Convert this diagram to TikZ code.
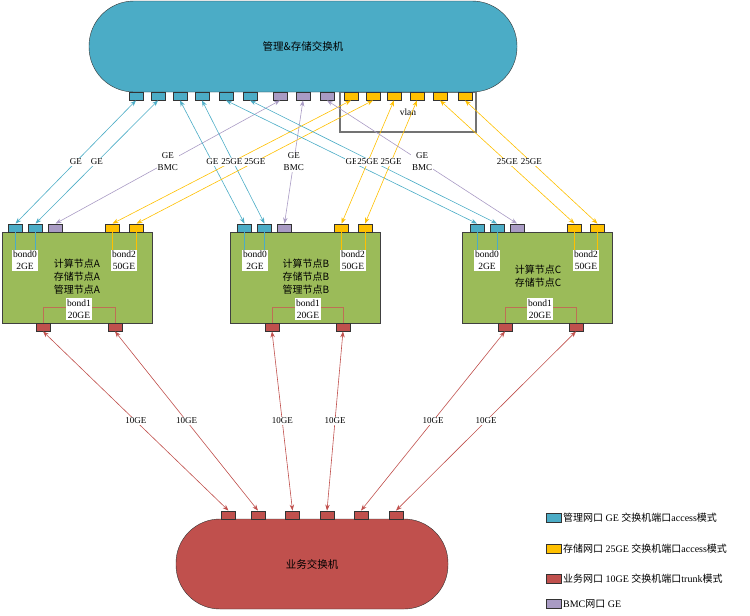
\documentclass[tikz,border=0pt]{standalone}
\usepackage{fontspec}
\setmainfont{Liberation Serif}
\newfontfamily\cjk{Noto Sans CJK SC}
\usetikzlibrary{arrows.meta}
\definecolor{mgmt}{HTML}{4BACC6}
\definecolor{stor}{HTML}{FFC000}
\definecolor{biz}{HTML}{C0504D}
\definecolor{bmc}{HTML}{A99BC4}
\definecolor{srv}{HTML}{9BBB59}
\definecolor{brk}{HTML}{BE6F55}
\begin{document}
\begin{tikzpicture}[x=1pt, y=-1pt, >={Stealth[length=6pt,width=4.5pt]},
  port/.style={draw=black!80, line width=0.8pt, minimum width=14pt, minimum height=8pt, inner sep=0pt},
  server/.style={draw=black!75, line width=1pt, fill=srv, minimum width=150pt, minimum height=91pt},
  bond/.style={fill=white, align=center, inner sep=1.2pt, font=\fontsize{9.5}{12}\selectfont},
  srvtext/.style={align=center, font=\cjk\fontsize{10}{13}\selectfont},
  lbl/.style={fill=white, inner sep=0.8pt, align=center, font=\fontsize{9}{12}\selectfont},
  link/.style={<->, line width=0.6pt},
  legtext/.style={anchor=west, inner sep=1.5pt, font=\fontsize{10}{12}\selectfont}]
\useasboundingbox (0,0) rectangle (750,616);

% management & storage switch
\node[draw=black!55, line width=1.3pt, minimum width=136pt, minimum height=40pt, font=\fontsize{9.5}{11}\selectfont] (vlan) at (408,112) {vlan};
\node[draw=black!80, fill=mgmt, rounded corners=45pt, minimum width=428pt, minimum height=91pt, font=\cjk\fontsize{10.5}{12}\selectfont] (top) at (303,46.5) {管理\&存储交换机};
\node[port, fill=mgmt] (m1) at (136,96) {};
\node[port, fill=mgmt] (m2) at (158,96) {};
\node[port, fill=mgmt] (m3) at (180,96) {};
\node[port, fill=mgmt] (m4) at (202,96) {};
\node[port, fill=mgmt] (m5) at (226,96) {};
\node[port, fill=mgmt] (m6) at (250,96) {};
\node[port, fill=bmc] (p1) at (280,96) {};
\node[port, fill=bmc] (p2) at (303,96) {};
\node[port, fill=bmc] (p3) at (327,96) {};
\node[port, fill=stor] (v1) at (351,96) {};
\node[port, fill=stor] (v2) at (373,96) {};
\node[port, fill=stor] (v3) at (394,96) {};
\node[port, fill=stor] (v4) at (417,96) {};
\node[port, fill=stor] (v5) at (440,96) {};
\node[port, fill=stor] (v6) at (465,96) {};

% server A
\node[server] (na) at (77,277.5) {};
\node[port, fill=mgmt] (am1) at (15.5,228) {};
\node[port, fill=mgmt] (am2) at (35.5,228) {};
\node[port, fill=bmc] (ap) at (55.5,228) {};
\node[port, fill=stor] (as1) at (112.5,228) {};
\node[port, fill=stor] (as2) at (136.5,228) {};
\node[port, fill=biz] (ar1) at (43,327) {};
\node[port, fill=biz] (ar2) at (115,327) {};
\node[bond] (a0) at (25,260.5) {bond0\\2GE};
\node[bond] (a2) at (124,260.5) {bond2\\50GE};
\draw[mgmt, line width=0.8pt] (am1.south) -- (am1 |- a0.north);
\draw[mgmt, line width=0.8pt] (am2.south) -- (am2 |- a0.north);
\draw[stor, line width=0.8pt] (as1.south) -- (as1 |- a2.north);
\draw[stor, line width=0.8pt] (as2.south) -- (as2 |- a2.north);
\draw[brk, line width=0.8pt] (ar1.north) -- ++(0,-15) -| (ar2.north);
\node[bond] (a1) at (79,309) {bond1\\20GE};
\node[srvtext] (ta) at (77,277) {计算节点A\\存储节点A\\管理节点A};

% server B
\node[server] (nb) at (305,277.5) {};
\node[port, fill=mgmt] (bm1) at (244.5,228) {};
\node[port, fill=mgmt] (bm2) at (264.5,228) {};
\node[port, fill=bmc] (bp) at (284.5,228) {};
\node[port, fill=stor] (bs1) at (341.5,228) {};
\node[port, fill=stor] (bs2) at (365,228) {};
\node[port, fill=biz] (br1) at (272,327) {};
\node[port, fill=biz] (br2) at (343,327) {};
\node[bond] (b0) at (255,260.5) {bond0\\2GE};
\node[bond] (b2) at (353,260.5) {bond2\\50GE};
\draw[mgmt, line width=0.8pt] (bm1.south) -- (bm1 |- b0.north);
\draw[mgmt, line width=0.8pt] (bm2.south) -- (bm2 |- b0.north);
\draw[stor, line width=0.8pt] (bs1.south) -- (bs1 |- b2.north);
\draw[stor, line width=0.8pt] (bs2.south) -- (bs2 |- b2.north);
\draw[brk, line width=0.8pt] (br1.north) -- ++(0,-15) -| (br2.north);
\node[bond] (b1) at (308,309) {bond1\\20GE};
\node[srvtext] (tb) at (306,277) {计算节点B\\存储节点B\\管理节点B};

% server C
\node[server] (nc) at (537.5,277.5) {};
\node[port, fill=mgmt] (cm1) at (477,228) {};
\node[port, fill=mgmt] (cm2) at (497,228) {};
\node[port, fill=bmc] (cp) at (517,228) {};
\node[port, fill=stor] (cs1) at (574.5,228) {};
\node[port, fill=stor] (cs2) at (597.5,228) {};
\node[port, fill=biz] (cr1) at (505,327) {};
\node[port, fill=biz] (cr2) at (576,327) {};
\node[bond] (c0) at (487,260.5) {bond0\\2GE};
\node[bond] (c2) at (586,260.5) {bond2\\50GE};
\draw[mgmt, line width=0.8pt] (cm1.south) -- (cm1 |- c0.north);
\draw[mgmt, line width=0.8pt] (cm2.south) -- (cm2 |- c0.north);
\draw[stor, line width=0.8pt] (cs1.south) -- (cs1 |- c2.north);
\draw[stor, line width=0.8pt] (cs2.south) -- (cs2 |- c2.north);
\draw[brk, line width=0.8pt] (cr1.north) -- ++(0,-15) -| (cr2.north);
\node[bond] (c1) at (540,309) {bond1\\20GE};
\node[srvtext] (tc) at (538,276) {计算节点C\\存储节点C};

% business switch
\node[draw=black!80, fill=biz, rounded corners=44pt, minimum width=272pt, minimum height=90pt, font=\cjk\fontsize{10.5}{12}\selectfont] (bot) at (312,564) {业务交换机};
\node[port, fill=biz] (z1) at (228.5,515) {};
\node[port, fill=biz] (z2) at (258,515) {};
\node[port, fill=biz] (z3) at (292.5,515) {};
\node[port, fill=biz] (z4) at (327,515) {};
\node[port, fill=biz] (z5) at (361,515) {};
\node[port, fill=biz] (z6) at (396,515) {};

% links
\draw[link, draw=mgmt] (m1.south) -- node[lbl] {GE} (am1.north);
\draw[link, draw=mgmt] (m2.south) -- node[lbl] {GE} (am2.north);
\draw[link, draw=bmc] (p1.south) -- node[lbl] {GE\\BMC} (ap.north);
\draw[link, draw=mgmt] (m3.south) -- node[lbl] {GE} (bm1.north);
\draw[link, draw=mgmt] (m4.south) -- node[lbl] {GE} (bm2.north);
\draw[link, draw=stor] (v1.south) -- node[lbl] {25GE} (as1.north);
\draw[link, draw=stor] (v2.south) -- node[lbl] {25GE} (as2.north);
\draw[link, draw=bmc] (p2.south) -- node[lbl] {GE\\BMC} (bp.north);
\draw[link, draw=mgmt] (m5.south) -- node[lbl] {GE} (cm1.north);
\draw[link, draw=mgmt] (m6.south) -- node[lbl] {GE} (cm2.north);
\draw[link, draw=stor] (v3.south) -- node[lbl] {25GE} (bs1.north);
\draw[link, draw=stor] (v4.south) -- node[lbl] {25GE} (bs2.north);
\draw[link, draw=bmc] (p3.south) -- node[lbl] {GE\\BMC} (cp.north);
\draw[link, draw=stor] (v5.south) -- node[lbl] {25GE} (cs1.north);
\draw[link, draw=stor] (v6.south) -- node[lbl] {25GE} (cs2.north);

\draw[link, draw=biz] (ar1.south) -- node[lbl] {10GE} (z1.north);
\draw[link, draw=biz] (ar2.south) -- node[lbl] {10GE} (z2.north);
\draw[link, draw=biz] (br1.south) -- node[lbl] {10GE} (z3.north);
\draw[link, draw=biz] (br2.south) -- node[lbl] {10GE} (z4.north);
\draw[link, draw=biz] (cr1.south) -- node[lbl] {10GE} (z5.north);
\draw[link, draw=biz] (cr2.south) -- node[lbl] {10GE} (z6.north);

% legend
\node[port, fill=mgmt, minimum width=15pt, minimum height=9pt] (l1) at (553.5,517.5) {};
\node[legtext] (l1t) at (l1.east) {{\cjk 管理网口} GE {\cjk 交换机端口}access{\cjk 模式}};
\node[port, fill=stor, minimum width=15pt, minimum height=9pt] (l2) at (553.5,549) {};
\node[legtext] (l2t) at (l2.east) {{\cjk 存储网口} 25GE {\cjk 交换机端口}access{\cjk 模式}};
\node[port, fill=biz, minimum width=15pt, minimum height=9pt] (l3) at (553.5,579) {};
\node[legtext] (l3t) at (l3.east) {{\cjk 业务网口} 10GE {\cjk 交换机端口}trunk{\cjk 模式}};
\node[port, fill=bmc, minimum width=15pt, minimum height=9pt] (l4) at (553.5,604) {};
\node[legtext] (l4t) at (l4.east) {BMC{\cjk 网口} GE};
\end{tikzpicture}
\end{document}
